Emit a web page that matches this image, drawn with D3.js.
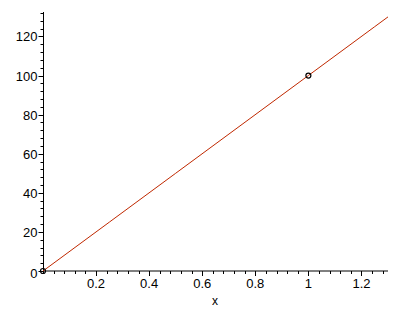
<!DOCTYPE html>
<html>
<head>
<meta charset="utf-8">
<script src="https://cdn.jsdelivr.net/npm/d3@7"></script>
<style>
  body { margin: 0; background: #fff; }
  text { font-family: "Liberation Sans", Arial, sans-serif; }
</style>
</head>
<body>
<script>
// line y = 100x sampled over the plot range, plus the two marked points
const lineX = [0, 0.25, 0.5, 0.75, 1, 1.25, 1.3];
const lineY = [0, 25, 50, 75, 100, 125, 130];
const pointX = [0, 1];
const pointY = [0, 100];
const xTicks = [0.2, 0.4, 0.6, 0.8, 1, 1.2];
const yTicks = [0, 20, 40, 60, 80, 100, 120];

let width = 403, height = 317;
let svg = d3.select('body').append('svg').attr('width', width).attr('height', height);

let x = d3.scaleLinear().domain([0, 1.3]).range([43, 388]);
let y = d3.scaleLinear().domain([0, 132.5]).range([271, 12]);

// minor ticks
let xMinor = d3.range(0, 1.3 + 1e-9, 0.04);
let yMinor = d3.range(0, 132.5, 4);

let gx = svg.append('g').attr('transform', `translate(0,${y(0)})`);
gx.append('line').attr('x1', x(0)).attr('x2', x(1.3)).attr('stroke', 'black');
gx.selectAll('.minor').data(xMinor).enter().append('line')
  .attr('x1', d => Math.round(x(d)) + 0.5).attr('x2', d => Math.round(x(d)) + 0.5)
  .attr('y1', 0).attr('y2', 3).attr('stroke', 'black');
gx.selectAll('.major').data(xTicks).enter().append('line')
  .attr('x1', d => Math.round(x(d)) + 0.5).attr('x2', d => Math.round(x(d)) + 0.5)
  .attr('y1', 0).attr('y2', 5).attr('stroke', 'black');
gx.selectAll('text').data(xTicks).enter().append('text')
  .attr('x', d => x(d)).attr('y', 17)
  .attr('text-anchor', 'middle').attr('font-size', 13)
  .text(d => d);

let gy = svg.append('g').attr('transform', `translate(${Math.round(x(0)) + 0.5},0)`);
gy.append('line').attr('y1', y(0)).attr('y2', y(132.5)).attr('stroke', 'black');
gy.selectAll('.minor').data(yMinor).enter().append('line')
  .attr('y1', d => Math.round(y(d)) + 0.5).attr('y2', d => Math.round(y(d)) + 0.5)
  .attr('x1', 0).attr('x2', -3).attr('stroke', 'black');
gy.selectAll('.major').data(yTicks).enter().append('line')
  .attr('y1', d => Math.round(y(d)) + 0.5).attr('y2', d => Math.round(y(d)) + 0.5)
  .attr('x1', 0).attr('x2', -5).attr('stroke', 'black');
gy.selectAll('text').data(yTicks).enter().append('text')
  .attr('x', -6).attr('y', d => y(d) + 5 + (d === 0 ? 2 : 0))
  .attr('text-anchor', 'end').attr('font-size', 13)
  .text(d => d);

svg.append('text').attr('x', 215).attr('y', 305)
  .attr('text-anchor', 'middle').attr('font-size', 12).text('x');

// the line
let line = d3.line().x((d, i) => x(lineX[i])).y(d => y(d));
svg.append('path').datum(lineY)
  .attr('d', line).attr('fill', 'none')
  .attr('stroke', '#c02800').attr('stroke-width', 1);

// point markers
svg.selectAll('circle').data(pointY).enter().append('circle')
  .attr('cx', (d, i) => x(pointX[i])).attr('cy', d => y(d))
  .attr('r', 2.5).attr('fill', 'none').attr('stroke', 'black').attr('stroke-width', 1.2);
</script>
</body>
</html>
